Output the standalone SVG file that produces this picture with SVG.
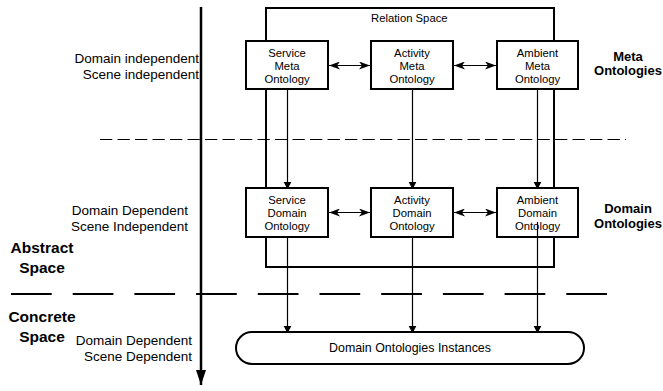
<svg xmlns="http://www.w3.org/2000/svg" width="663" height="391" viewBox="0 0 663 391">
<style>
text{font-family:"Liberation Sans",Arial,sans-serif;fill:#000}
.box{fill:#fff;stroke:#000;stroke-width:2}
.bt{font-size:11.3px;text-anchor:middle}
.lbl{font-size:13.5px;text-anchor:end}
.big{font-size:15.5px;font-weight:bold;text-anchor:middle}
.side{font-size:13px;font-weight:bold;text-anchor:middle}
.arr{stroke:#000;stroke-width:1.2;fill:none}
</style>
<defs>
<marker id="tri" markerWidth="8" markerHeight="10" refX="8" refY="5" orient="auto" markerUnits="userSpaceOnUse" viewBox="0 0 10 10">
<path d="M0,0 L10,5 L0,10 z" fill="#000"/>
</marker>
<marker id="barb" markerWidth="11" markerHeight="8" refX="11" refY="4" orient="auto-start-reverse" markerUnits="userSpaceOnUse" viewBox="0 0 11 8">
<path d="M0,0 L11,4 L0,8 L3,4 z" fill="#000"/>
</marker>
<marker id="big" markerWidth="15" markerHeight="10" refX="15" refY="5" orient="auto" markerUnits="userSpaceOnUse" viewBox="0 0 15 10">
<path d="M0,0 L15,5 L0,10 z" fill="#000"/>
</marker>
</defs>

<g id="separators">
<line x1="100" y1="139.5" x2="626" y2="139.5" stroke="#000" stroke-width="1" stroke-dasharray="12.3 5.2"/>
<line x1="11" y1="294" x2="607" y2="294" stroke="#000" stroke-width="2" stroke-dasharray="40.7 21"/>
</g>

<g id="axis">
<line x1="201" y1="7" x2="201" y2="385" stroke="#000" stroke-width="2.5" marker-end="url(#big)"/>
</g>

<g id="relation-space">
<rect x="266" y="8" width="288" height="259" fill="none" stroke="#000" stroke-width="2"/>
<text x="371" y="21.5" style="font-size:11.3px">Relation Space</text>
</g>

<g id="connectors">
<line class="arr" x1="287.5" y1="89" x2="287.5" y2="188" marker-end="url(#tri)"/>
<line class="arr" x1="412.5" y1="89" x2="412.5" y2="188" marker-end="url(#tri)"/>
<line class="arr" x1="537.5" y1="89" x2="537.5" y2="188" marker-end="url(#tri)"/>
<line class="arr" x1="287.5" y1="237" x2="287.5" y2="332" marker-end="url(#tri)"/>
<line class="arr" x1="412.5" y1="237" x2="412.5" y2="332" marker-end="url(#tri)"/>
<line class="arr" x1="537.5" y1="237" x2="537.5" y2="332" marker-end="url(#tri)"/>
<line class="arr" x1="329" y1="65.5" x2="370" y2="65.5" marker-start="url(#barb)" marker-end="url(#barb)"/>
<line class="arr" x1="454" y1="65.5" x2="496" y2="65.5" marker-start="url(#barb)" marker-end="url(#barb)"/>
<line class="arr" x1="329" y1="212.5" x2="370" y2="212.5" marker-start="url(#barb)" marker-end="url(#barb)"/>
<line class="arr" x1="454" y1="212.5" x2="496" y2="212.5" marker-start="url(#barb)" marker-end="url(#barb)"/>
</g>

<g id="service-meta">
<rect class="box" x="246" y="41" width="82" height="48"/>
<text class="bt" x="287" y="57">Service</text>
<text class="bt" x="287" y="70">Meta</text>
<text class="bt" x="287" y="83">Ontology</text>
</g>
<g id="activity-meta">
<rect class="box" x="371" y="41" width="82" height="48"/>
<text class="bt" x="412" y="57">Activity</text>
<text class="bt" x="412" y="70">Meta</text>
<text class="bt" x="412" y="83">Ontology</text>
</g>
<g id="ambient-meta">
<rect class="box" x="497" y="41" width="81" height="48"/>
<text class="bt" x="537.5" y="57">Ambient</text>
<text class="bt" x="537.5" y="70">Meta</text>
<text class="bt" x="537.5" y="83">Ontology</text>
</g>

<g id="service-domain">
<rect class="box" x="246" y="188" width="82" height="49"/>
<text class="bt" x="287" y="204">Service</text>
<text class="bt" x="287" y="217">Domain</text>
<text class="bt" x="287" y="230">Ontology</text>
</g>
<g id="activity-domain">
<rect class="box" x="371" y="188" width="82" height="49"/>
<text class="bt" x="412" y="204">Activity</text>
<text class="bt" x="412" y="217">Domain</text>
<text class="bt" x="412" y="230">Ontology</text>
</g>
<g id="ambient-domain">
<rect class="box" x="497" y="188" width="81" height="49"/>
<text class="bt" x="537.5" y="204">Ambient</text>
<text class="bt" x="537.5" y="217">Domain</text>
<text class="bt" x="537.5" y="230">Ontology</text>
</g>
<g id="ambient-domain-arrow-over">
<line class="arr" x1="537.5" y1="222" x2="537.5" y2="237"/>
</g>

<g id="instances">
<rect class="box" x="236" y="332" width="348" height="32" rx="16" ry="16"/>
<text x="410" y="352" style="font-size:12.4px;text-anchor:middle">Domain Ontologies Instances</text>
</g>

<g id="labels">
<text class="lbl" x="199" y="63">Domain independent</text>
<text class="lbl" x="199" y="79">Scene independent</text>
<text class="lbl" x="188" y="215">Domain Dependent</text>
<text class="lbl" x="188" y="231">Scene Independent</text>
<text class="lbl" x="192" y="345">Domain Dependent</text>
<text class="lbl" x="192" y="361">Scene Dependent</text>
<text class="big" x="42" y="253">Abstract</text>
<text class="big" x="42" y="273">Space</text>
<text class="big" x="42" y="322">Concrete</text>
<text class="big" x="42" y="342">Space</text>
<text class="side" x="628" y="61">Meta</text>
<text class="side" x="628" y="75">Ontologies</text>
<text class="side" x="628" y="213">Domain</text>
<text class="side" x="628" y="228">Ontologies</text>
</g>
</svg>
